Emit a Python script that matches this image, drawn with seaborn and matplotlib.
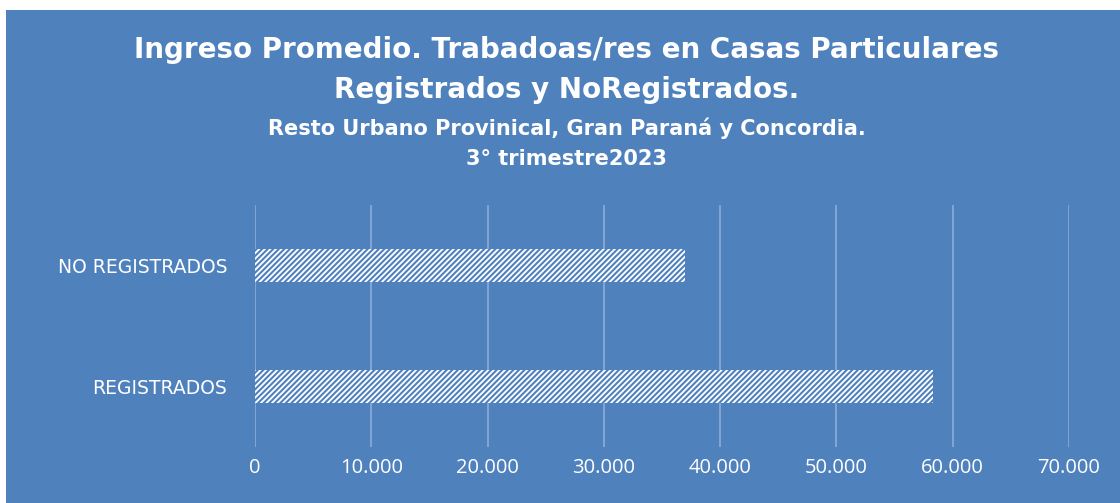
import pandas as pd
import matplotlib
matplotlib.use("Agg")
import matplotlib.pyplot as plt
import seaborn as sns
from matplotlib.patches import Rectangle
from matplotlib.ticker import FuncFormatter

# --- Data ---
categorias = ["NO REGISTRADOS", "REGISTRADOS"]
ingreso = [37000, 58300]
xticks = [0, 10000, 20000, 30000, 40000, 50000, 60000, 70000]

titulo_1 = "Ingreso Promedio. Trabadoas/res en Casas Particulares"
titulo_2 = "Registrados y NoRegistrados."
subtitulo_1 = "Resto Urbano Provinical, Gran Paraná y Concordia."
subtitulo_2 = "3° trimestre2023"

df = pd.DataFrame({"categoria": categorias, "ingreso": ingreso})

azul = "#4F81BD"
grilla = "#8EAAD6"

sns.set_theme(style="white")
plt.rcParams['font.family'] = ['Open Sans', 'DejaVu Sans']
plt.rcParams['hatch.linewidth'] = 1.5
plt.rcParams['hatch.color'] = azul

fig = plt.figure(figsize=(11.2, 5.03), dpi=100)
fig.patch.set_facecolor("white")
fondo = Rectangle((6 / 1120, 0), 1 - 6 / 1120, 1 - 10 / 503,
                  transform=fig.transFigure, facecolor=azul,
                  edgecolor="none", zorder=-10)
fig.patches.append(fondo)

ax = fig.add_axes([255 / 1120, 1 - 447 / 503, (1069 - 255) / 1120, (447 - 205) / 503])
ax.set_facecolor("none")
ax.set_zorder(2)
ax.set_axisbelow(True)

sns.barplot(data=df, x="ingreso", y="categoria", orient="h", ax=ax,
            color="white", width=0.28, saturation=1)
for bar in ax.patches:
    bar.set_hatch("//////")
    bar.set_edgecolor(azul)
    bar.set_linewidth(0)
    bar.set_zorder(3)

ax.set_xlim(0, 70000)
ax.set_ylim(1.5, -0.5)
ax.set_xticks(xticks)
ax.xaxis.set_major_formatter(FuncFormatter(lambda v, p: f"{int(v):,}".replace(",", ".")))
ax.grid(axis="x", color=grilla, linewidth=1.2)
ax.grid(axis="y", visible=False)
for s in ax.spines.values():
    s.set_visible(False)
ax.set_xlabel("")
ax.set_ylabel("")
ax.tick_params(axis="x", colors="white", labelsize=14.5, length=0, pad=8)
ax.tick_params(axis="y", colors="white", length=0, pad=20)
for lbl in ax.get_yticklabels():
    lbl.set_family(["DejaVu Sans"])
    lbl.set_fontsize(13.5)

titulo_kw = dict(color="white", fontweight="bold", ha="center", va="center",
                 family=["DejaVu Sans"])
fig.text(0.506, 1 - 50 / 503, titulo_1, fontsize=20, **titulo_kw)
fig.text(0.506, 1 - 90 / 503, titulo_2, fontsize=20, **titulo_kw)
fig.text(0.506, 1 - 128 / 503, subtitulo_1, fontsize=15, **titulo_kw)
fig.text(0.506, 1 - 159 / 503, subtitulo_2, fontsize=15, **titulo_kw)

fig.savefig("out.png", dpi=100, facecolor=fig.get_facecolor())
